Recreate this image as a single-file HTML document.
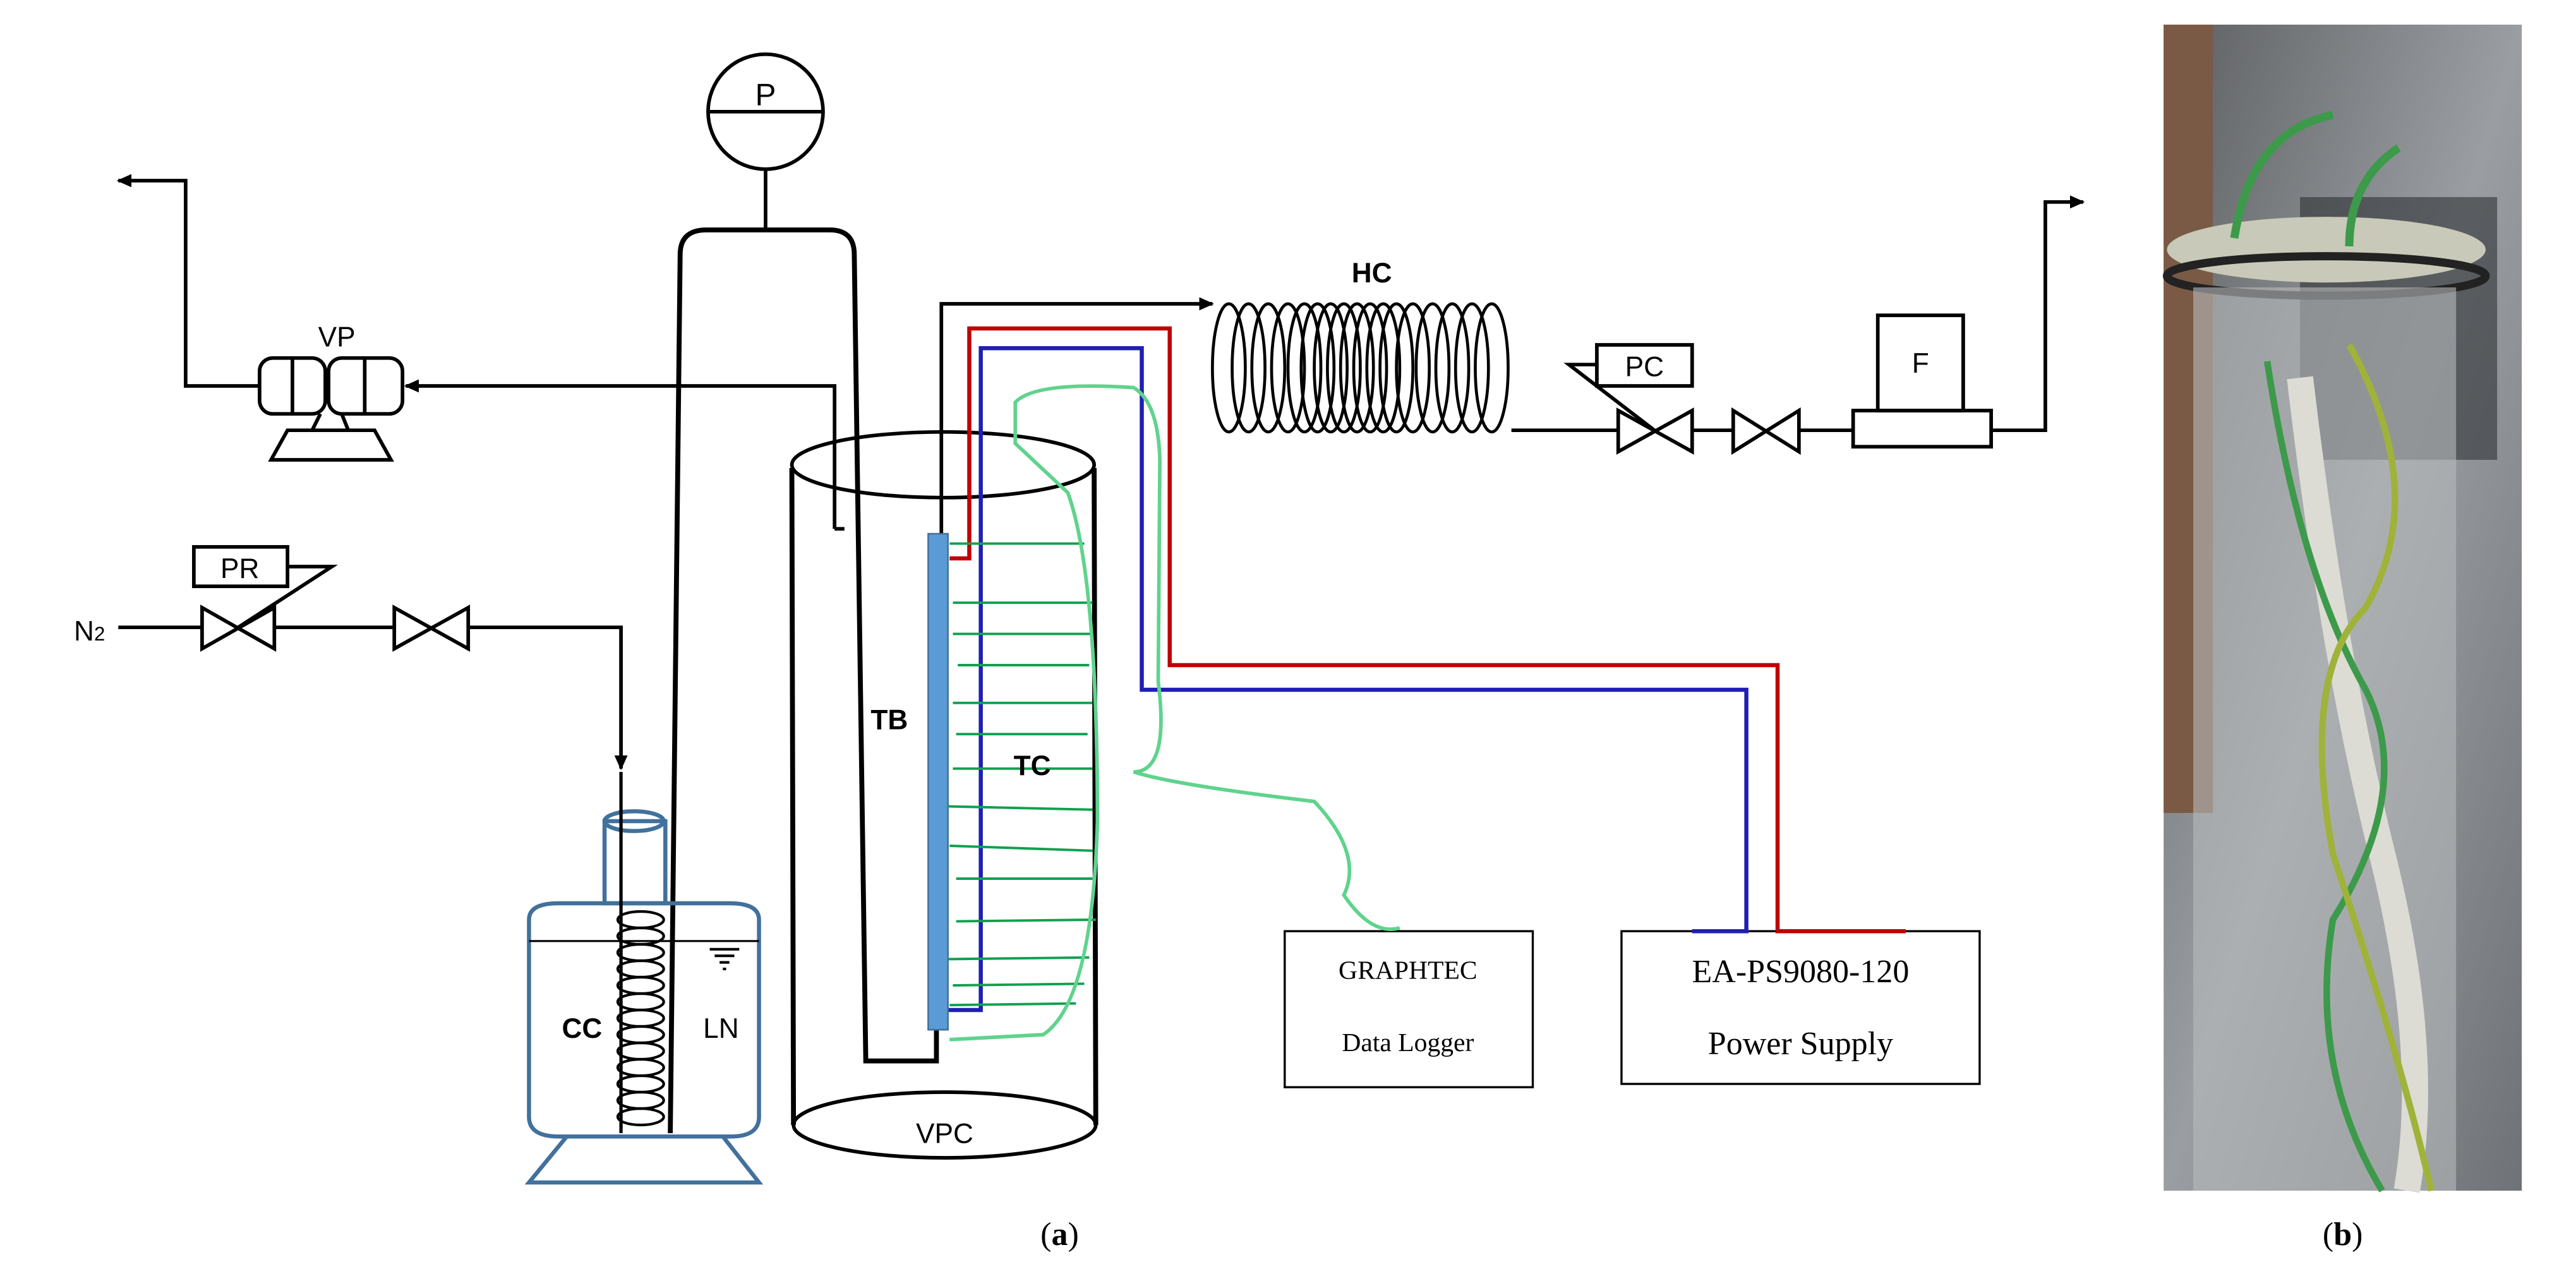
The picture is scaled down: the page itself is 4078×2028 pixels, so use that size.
<!DOCTYPE html>
<html><head><meta charset="utf-8"><style>html,body{margin:0;padding:0;background:#fff}svg{display:block}</style></head>
<body>
<svg width="4078" height="2028" viewBox="0 0 1568 780" preserveAspectRatio="none" xmlns="http://www.w3.org/2000/svg" font-family="Liberation Sans, sans-serif">
<defs>
<marker id="ah" markerWidth="10" markerHeight="10" refX="8" refY="5" orient="auto" markerUnits="userSpaceOnUse"><path d="M0,1 L9,5 L0,9 Z" fill="#000"/></marker>
<linearGradient id="ph" x1="0" y1="0" x2="1" y2="1"><stop offset="0" stop-color="#5d5f62"/><stop offset="0.5" stop-color="#9a9ea2"/><stop offset="1" stop-color="#6f7276"/></linearGradient>
</defs>
<g fill="none" stroke="#000" stroke-width="2.2">
<polyline points="158,235 113,235 113,110 72,110" marker-end="url(#ah)"/>
<rect x="158" y="218" width="40" height="34" rx="8"/>
<rect x="200" y="218" width="45" height="34" rx="8"/>
<line x1="178" y1="218" x2="178" y2="252"/><line x1="222" y1="218" x2="222" y2="252"/>
<polygon points="175,262 228,262 238,280 165,280"/>
<line x1="195" y1="252" x2="190" y2="262"/><line x1="208" y1="252" x2="212" y2="262"/>
<polyline points="508,322 508,235 247,235" marker-end="url(#ah)"/>
<line x1="508" y1="322" x2="514" y2="322"/>
<circle cx="466" cy="68" r="35"/><line x1="431" y1="68" x2="501" y2="68"/>
<line x1="466" y1="103" x2="466" y2="140"/>
<path d="M408,690 L414,155 Q414,140 430,140 L505,140 Q520,140 520,155 L527,646 L570,646 L570,627" stroke-width="3"/>
<polyline points="573,325 573,185 738,185" marker-end="url(#ah)"/>
<polyline points="920,262 985,262"/>
<polyline points="1030,262 1055,262"/><polyline points="1095,262 1128,262"/>
<polygon points="985,250 985,275 1030,250 1030,275"/>
<polygon points="1055,250 1055,275 1095,250 1095,275"/>
<rect x="972" y="210" width="58" height="25"/>
<polyline points="972,222 955,222 1007,262"/>
<rect x="1128" y="250" width="84" height="22"/>
<rect x="1143" y="192" width="52" height="58"/>
<polyline points="1212,262 1245,262 1245,123 1268,123" marker-end="url(#ah)"/>
<line x1="72" y1="382" x2="123" y2="382"/>
<polygon points="123,370 123,395 167,370 167,395"/>
<line x1="167" y1="382" x2="240" y2="382"/>
<polygon points="240,370 240,395 285,370 285,395"/>
<polyline points="285,382 378,382 378,468" marker-end="url(#ah)"/>
<rect x="118" y="333" width="57" height="24"/>
<polyline points="175,345 202,345 145,382"/>
<ellipse cx="574" cy="283" rx="92" ry="20"/>
<line x1="482" y1="285" x2="483" y2="685" stroke-width="3"/>
<line x1="666" y1="285" x2="667" y2="685" stroke-width="3"/>
<ellipse cx="575" cy="685" rx="92" ry="20"/>
<rect x="782" y="567" width="151" height="95" stroke-width="1.3"/>
<rect x="987" y="567" width="218" height="93" stroke-width="1.3"/>
</g>
<g fill="none" stroke="#000" stroke-width="1.8">
<ellipse cx="748" cy="224" rx="10" ry="39"/><ellipse cx="760" cy="224" rx="10" ry="39"/><ellipse cx="772" cy="224" rx="10" ry="39"/><ellipse cx="784" cy="224" rx="10" ry="39"/><ellipse cx="794" cy="224" rx="10" ry="39"/><ellipse cx="802" cy="224" rx="10" ry="39"/><ellipse cx="810" cy="224" rx="10" ry="39"/><ellipse cx="818" cy="224" rx="10" ry="39"/><ellipse cx="826" cy="224" rx="10" ry="39"/><ellipse cx="834" cy="224" rx="10" ry="39"/><ellipse cx="842" cy="224" rx="10" ry="39"/><ellipse cx="850" cy="224" rx="10" ry="39"/><ellipse cx="860" cy="224" rx="10" ry="39"/><ellipse cx="872" cy="224" rx="10" ry="39"/><ellipse cx="884" cy="224" rx="10" ry="39"/><ellipse cx="896" cy="224" rx="10" ry="39"/><ellipse cx="908" cy="224" rx="10" ry="39"/>
</g>
<g fill="none" stroke="#41719c" stroke-width="2.5">
<rect x="368" y="500" width="37" height="50"/><ellipse cx="386" cy="500" rx="18" ry="6"/>
<path d="M322,560 Q322,550 340,550 L444,550 Q462,550 462,560 L462,680 Q462,692 445,692 L340,692 Q322,692 322,680 Z"/>
<polygon points="345,692 440,692 462,720 322,720"/>
</g>
<line x1="322" y1="573" x2="462" y2="573" stroke="#000" stroke-width="1.2"/>
<g fill="none" stroke="#000" stroke-width="1.6">
<line x1="432" y1="578" x2="450" y2="578"/><line x1="435" y1="582" x2="447" y2="582"/><line x1="438" y1="586" x2="444" y2="586"/><line x1="440" y1="590" x2="442" y2="590"/>
<ellipse cx="390" cy="560" rx="14" ry="5"/><ellipse cx="390" cy="570" rx="14" ry="5"/><ellipse cx="390" cy="580" rx="14" ry="5"/><ellipse cx="390" cy="590" rx="14" ry="5"/><ellipse cx="390" cy="600" rx="14" ry="5"/><ellipse cx="390" cy="610" rx="14" ry="5"/><ellipse cx="390" cy="620" rx="14" ry="5"/><ellipse cx="390" cy="630" rx="14" ry="5"/><ellipse cx="390" cy="640" rx="14" ry="5"/><ellipse cx="390" cy="650" rx="14" ry="5"/><ellipse cx="390" cy="660" rx="14" ry="5"/><ellipse cx="390" cy="670" rx="14" ry="5"/><ellipse cx="390" cy="680" rx="14" ry="5"/>
</g>
<line x1="378" y1="470" x2="378" y2="690" stroke="#000" stroke-width="2"/>
<polyline points="578,340 590,340 590,200 712,200 712,405 1082,405 1082,567 1160,567" fill="none" stroke="#c00000" stroke-width="2.5"/>
<polyline points="577,615 597,615 597,212 695,212 695,420 1063,420 1063,567 1030,567" fill="none" stroke="#1f1fb4" stroke-width="2.5"/>
<rect x="565" y="325" width="12" height="302" fill="#5b9bd5" stroke="#41719c" stroke-width="1"/>
<g stroke="#10a050" stroke-width="1.5">
<line x1="578" y1="331" x2="660" y2="331"/><line x1="580" y1="367" x2="665" y2="367"/><line x1="580" y1="386" x2="665" y2="386"/><line x1="583" y1="405" x2="663" y2="405"/><line x1="580" y1="428" x2="665" y2="428"/><line x1="582" y1="447" x2="662" y2="447"/><line x1="580" y1="468" x2="665" y2="468"/><line x1="577" y1="491" x2="665" y2="493"/><line x1="578" y1="515" x2="665" y2="518"/><line x1="582" y1="535" x2="665" y2="535"/><line x1="582" y1="561" x2="667" y2="560"/><line x1="577" y1="584" x2="663" y2="583"/><line x1="580" y1="600" x2="660" y2="599"/><line x1="578" y1="612" x2="655" y2="611"/>
</g>
<path d="M578,633 L635,630 Q665,610 668,500 Q668,350 650,300 L618,270 L618,245 Q630,232 690,236 Q705,245 706,280 L705,415 Q712,470 690,470 Q715,478 800,488 Q830,520 818,545 Q835,570 852,565" fill="none" stroke="#5fd38d" stroke-width="2.2"/>
<g font-size="17" fill="#000">
<text x="205" y="211" text-anchor="middle">VP</text>
<text x="466" y="64" text-anchor="middle" font-size="19">P</text>
<text x="835" y="172" text-anchor="middle" font-weight="bold">HC</text>
<text x="1001" y="229" text-anchor="middle">PC</text>
<text x="1169" y="227" text-anchor="middle">F</text>
<text x="146" y="352" text-anchor="middle">PR</text>
<text x="45" y="390">N<tspan font-size="12">2</tspan></text>
<text x="342" y="632" font-weight="bold">CC</text>
<text x="428" y="632">LN</text>
<text x="575" y="696" text-anchor="middle">VPC</text>
<text x="530" y="444" font-weight="bold">TB</text>
<text x="617" y="472" font-weight="bold">TC</text>
</g>
<g font-family="Liberation Serif, serif" fill="#000">
<text x="857" y="596" text-anchor="middle" font-size="16">GRAPHTEC</text>
<text x="857" y="640" text-anchor="middle" font-size="16">Data Logger</text>
<text x="1096" y="598" text-anchor="middle" font-size="20">EA-PS9080-120</text>
<text x="1096" y="642" text-anchor="middle" font-size="20">Power Supply</text>
<text x="645" y="758" text-anchor="middle" font-size="20">(<tspan font-weight="bold">a</tspan>)</text>
<text x="1426" y="758" text-anchor="middle" font-size="20">(<tspan font-weight="bold">b</tspan>)</text>
</g>
<g>
<rect x="1317" y="15" width="218" height="710" fill="url(#ph)"/>
<rect x="1317" y="15" width="30" height="480" fill="#7a5a45"/>
<rect x="1400" y="120" width="120" height="160" fill="#2f3236" opacity="0.6"/>
<ellipse cx="1416" cy="152" rx="97" ry="20" fill="#c8c9b8"/>
<ellipse cx="1416" cy="168" rx="97" ry="12" fill="none" stroke="#222" stroke-width="5"/>
<rect x="1335" y="175" width="160" height="550" fill="#b7babd" opacity="0.6"/>
<path d="M1400,230 Q1420,400 1450,520 Q1480,640 1465,725" stroke="#dcdcd4" stroke-width="16" fill="none"/>
<path d="M1380,220 Q1400,350 1440,420 Q1470,480 1420,560 Q1405,650 1450,725" stroke="#3c9a4a" stroke-width="4" fill="none"/>
<path d="M1430,210 Q1480,300 1440,370 Q1400,410 1420,520 Q1460,640 1480,725" stroke="#9fb33a" stroke-width="4" fill="none"/>
<path d="M1360,145 Q1370,80 1420,70 M1430,150 Q1430,110 1460,90" stroke="#3c9a4a" stroke-width="5" fill="none"/>
</g>
</svg>
</body></html>
